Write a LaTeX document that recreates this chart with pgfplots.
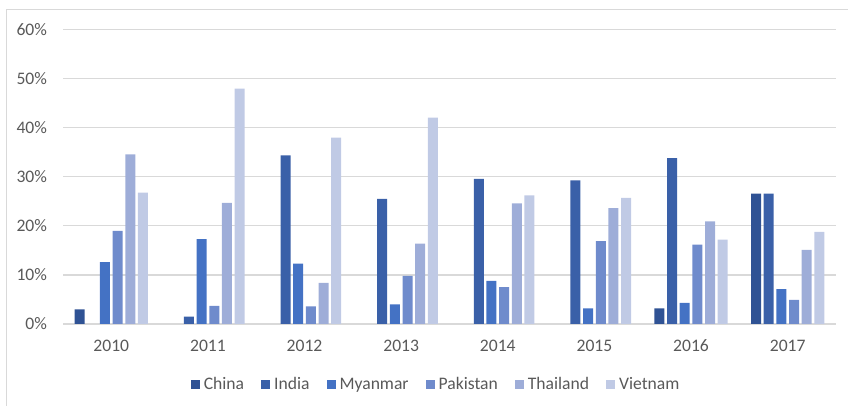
\documentclass[border=0pt]{standalone}
\usepackage{fontspec}
\setmainfont{Carlito}
\usepackage{pgfplots}
\pgfplotsset{compat=1.18}

\definecolor{cChina}{HTML}{2F5294}
\definecolor{cIndia}{HTML}{3A60A8}
\definecolor{cMyanmar}{HTML}{4472C4}
\definecolor{cPakistan}{HTML}{6F8BCC}
\definecolor{cThailand}{HTML}{9EADD8}
\definecolor{cVietnam}{HTML}{C0CAE5}
\definecolor{gridgray}{HTML}{D9D9D9}
\definecolor{txtgray}{HTML}{595959}

\begin{document}
\begin{tikzpicture}
\useasboundingbox (0,0) rectangle (424pt,203pt);
% chart frame (only top and left visible in the crop)
\draw[gridgray,line width=0.45pt] (3pt,0) -- (3pt,198.5pt) -- (424pt,198.5pt);
\begin{axis}[
	at={(31.5pt,41pt)},anchor=south west,
	scale only axis,
	width=386.5pt,height=147.15pt,
	xmin=-0.5,xmax=7.5,
	ymin=0,ymax=0.6,
	ybar=1.33pt,
	bar width=5pt,
	xtick={0,1,2,3,4,5,6,7},
	xticklabels={2010,2011,2012,2013,2014,2015,2016,2017},
	ytick={0,0.1,0.2,0.3,0.4,0.5,0.6},
	yticklabels={0\%,10\%,20\%,30\%,40\%,50\%,60\%},
	major tick length=0pt,
	axis lines*=left,
	y axis line style={draw=none},
	x axis line style={draw=gridgray,line width=0.6pt},
	ymajorgrids,
	major grid style={draw=gridgray,line width=0.6pt},
	tick label style={font=\fontsize{8.8}{10.5}\selectfont,text=txtgray},
	xticklabel style={yshift=-4.3pt},
	yticklabel style={xshift=-4.5pt},
	legend columns=-1,
	legend style={at={(0.484,-0.207)},anchor=center,draw=none,fill=none,
		font=\fontsize{8.8}{10.5}\selectfont,text=txtgray,
		/tikz/every even column/.append style={column sep=6.5pt}},
	legend image code/.code={\fill[#1] (0pt,-2.25pt) rectangle (4.5pt,2.25pt);},
]
\addplot[fill=cChina,draw=none] coordinates {(0,0.030) (6,0.032) (7,0.266)};
\addlegendentry{China}
\addplot[fill=cIndia,draw=none] coordinates {(1,0.015) (2,0.344) (3,0.255) (4,0.296) (5,0.293) (6,0.338) (7,0.266)};
\addlegendentry{India}
\addplot[fill=cMyanmar,draw=none] coordinates {(0,0.126) (1,0.173) (2,0.123) (3,0.040) (4,0.088) (5,0.032) (6,0.043) (7,0.071)};
\addlegendentry{Myanmar}
\addplot[fill=cPakistan,draw=none] coordinates {(0,0.190) (1,0.037) (2,0.036) (3,0.098) (4,0.075) (5,0.169) (6,0.162) (7,0.049)};
\addlegendentry{Pakistan}
\addplot[fill=cThailand,draw=none] coordinates {(0,0.346) (1,0.247) (2,0.084) (3,0.164) (4,0.246) (5,0.236) (6,0.209) (7,0.151)};
\addlegendentry{Thailand}
\addplot[fill=cVietnam,draw=none] coordinates {(0,0.268) (1,0.480) (2,0.380) (3,0.421) (4,0.262) (5,0.257) (6,0.172) (7,0.188)};
\addlegendentry{Vietnam}
\end{axis}
\end{tikzpicture}
\end{document}
